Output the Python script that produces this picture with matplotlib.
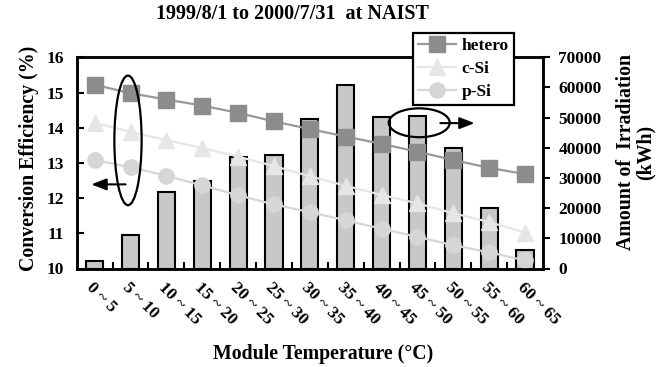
import matplotlib
matplotlib.use("Agg")
import matplotlib.pyplot as plt
import numpy as np
from matplotlib.patches import Ellipse

categories = ["0 ~ 5", "5 ~ 10", "10 ~ 15", "15 ~ 20", "20 ~ 25", "25 ~ 30", "30 ~ 35",
              "35 ~ 40", "40 ~ 45", "45 ~ 50", "50 ~ 55", "55 ~ 60", "60 ~ 65"]
irradiation = [2600, 11000, 25400, 29100, 36900, 37700, 49700, 60700, 50200, 50400, 40100, 20200, 6200]
hetero = [15.22, 14.98, 14.80, 14.63, 14.42, 14.18, 13.96, 13.75, 13.54, 13.32, 13.08, 12.86, 12.68]
c_si = [14.14, 13.88, 13.65, 13.42, 13.18, 12.91, 12.62, 12.35, 12.09, 11.85, 11.57, 11.32, 11.02]
p_si = [13.08, 12.88, 12.63, 12.36, 12.08, 11.82, 11.60, 11.37, 11.13, 10.90, 10.66, 10.46, 10.23]
left_ticks = [10, 11, 12, 13, 14, 15, 16]
right_ticks = [0, 10000, 20000, 30000, 40000, 50000, 60000, 70000]

plt.rcParams['font.family'] = ['Liberation Serif', 'DejaVu Serif']
plt.rcParams['font.weight'] = 'bold'

TICK_FS = 12.5
LABEL_FS = 14.3

fig = plt.figure(figsize=(6.7, 3.67), dpi=100)
L, R, B, T = 76.7 / 670, 543 / 670, 1 - 268.5 / 367, 1 - 57.3 / 367
ax1 = fig.add_axes([L, B, R - L, T - B])
ax2 = ax1.twinx()
ax1.set_zorder(ax2.get_zorder() + 1)
ax1.patch.set_visible(False)

x = np.arange(len(categories))
ax2.bar(x, irradiation, width=0.48, color='#c8c8c8', edgecolor='black', linewidth=1.5, zorder=2)
ax2.set_ylim(0, 70000)
ax2.set_yticks(right_ticks)
ax2.set_yticklabels([str(v) for v in right_ticks], fontsize=TICK_FS, fontweight='bold')
ax2.tick_params(axis='y', direction='out', length=5, width=1.5, pad=6)

ax1.plot(x, hetero, color='#999999', lw=1.6, marker='s', ms=11, mfc='#8c8c8c', mec='#8c8c8c', label='hetero')
ax1.plot(x, c_si, color='#e6e6e6', lw=1.6, marker='^', ms=11, mfc='#e6e6e6', mec='#e6e6e6', label='c-Si')
ax1.plot(x, p_si, color='#d6d6d6', lw=1.6, marker='o', ms=11, mfc='#d6d6d6', mec='#d6d6d6', label='p-Si')
ax1.set_ylim(10, 16)
ax1.set_xlim(-0.5, len(categories) - 0.5)
ax1.set_yticks(left_ticks)
ax1.set_yticklabels([str(v) for v in left_ticks], fontsize=TICK_FS, fontweight='bold')
ax1.tick_params(axis='y', direction='in', length=5, width=1.5, pad=9)

ax1.set_xticks(x)
ax1.set_xticklabels(categories, rotation=-45, ha='left', va='top', rotation_mode='anchor',
                    fontsize=TICK_FS, fontweight='bold')
ax1.tick_params(axis='x', which='major', length=0, pad=8)
ax1.set_xticks(np.arange(0.5, len(categories) - 0.5, 1.0), minor=True)
ax1.tick_params(axis='x', which='minor', direction='in', length=5, width=1.5)

for a in (ax1, ax2):
    for s in a.spines.values():
        s.set_linewidth(1.8)

# annotations
ax1.add_patch(Ellipse((0.93, 13.64), 0.76, 3.68, fill=False, ec='black', lw=1.6, zorder=5))
ax1.annotate('', xy=(-0.17, 12.39), xytext=(0.94, 12.39),
             arrowprops=dict(arrowstyle='-|>,head_length=0.9,head_width=0.35', color='black', lw=1.5))
ax1.add_patch(Ellipse((9.05, 14.14), 1.70, 0.82, fill=False, ec='black', lw=1.6, zorder=5))
ax1.annotate('', xy=(10.67, 14.13), xytext=(9.56, 14.13),
             arrowprops=dict(arrowstyle='-|>,head_length=0.9,head_width=0.35', color='black', lw=1.5))

leg = fig.legend(loc='upper left', bbox_to_anchor=(413 / 670, 1 - 33 / 367), fontsize=TICK_FS,
                 frameon=True, fancybox=False, edgecolor='black', handlelength=2.2,
                 handletextpad=0.3, borderpad=0.3, labelspacing=0.38, borderaxespad=0)
leg.get_frame().set_linewidth(1.6)
leg.get_frame().set_facecolor('white')
leg.get_frame().set_alpha(1)
leg.set_zorder(10)

fig.text(292 / 670, 1 - 14 / 367, '1999/8/1 to 2000/7/31  at NAIST', ha='center', va='center',
         fontsize=14.5, fontweight='bold')
fig.text(323 / 670, 1 - 354 / 367, 'Module Temperature (\u00b0C)', ha='center', va='center',
         fontsize=LABEL_FS, fontweight='bold')
fig.text(29 / 670, 1 - 158 / 367, 'Conversion Efficiency (%)', ha='center', va='center',
         rotation=90, fontsize=LABEL_FS, fontweight='bold')
fig.text(636 / 670, 1 - 152 / 367, 'Amount of  Irradiation\n(kWh)', ha='center', va='center',
         rotation=90, fontsize=LABEL_FS, fontweight='bold', multialignment='center', linespacing=1.0)

fig.savefig('out.png', dpi=100)
